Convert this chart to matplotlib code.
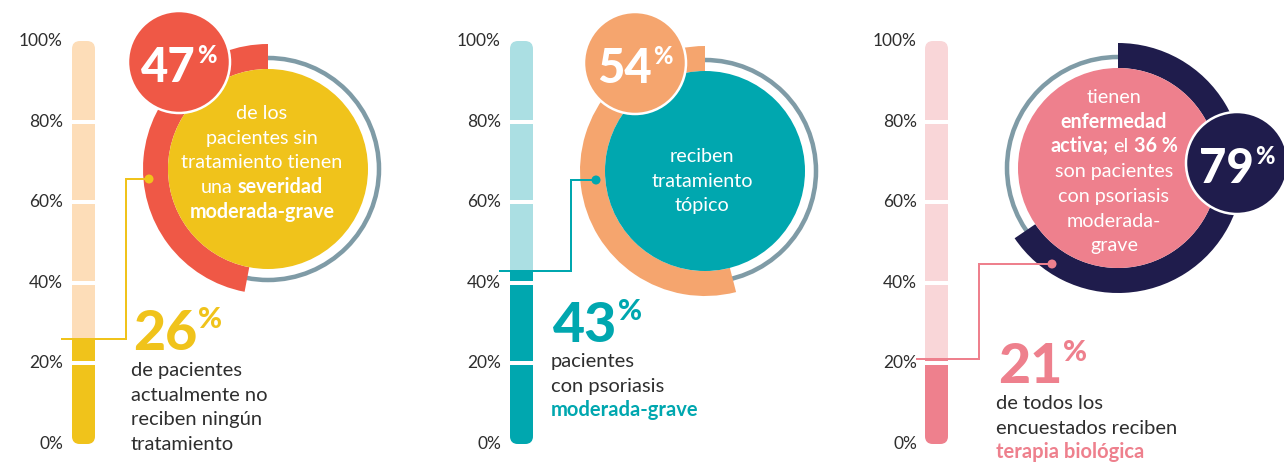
import numpy as np
import matplotlib.pyplot as plt
from matplotlib.patches import Circle, Wedge, FancyBboxPatch, Rectangle

plt.rcParams['font.family'] = ['Lato', 'DejaVu Sans']

# datos
ticks = [0, 20, 40, 60, 80, 100]
bar_pct = [26, 43, 21]          # barra de cada panel
arc_pct = [47, 54, 65.5]        # arco dibujado alrededor del circulo
bubble_txt = ["47", "54", "79"]
big_txt = ["26", "43", "21"]

# textos (segmento, estilo) por linea; estilo 0 normal, 1 negrita, 2 negrita color
circle_lines = [
    [[("de los", 0)], [("pacientes sin", 0)], [("tratamiento tienen", 0)],
     [("una", 0), ("severidad", 1)], [("moderada-grave", 1)]],
    [[("reciben", 0)], [("tratamiento", 0)], [("tópico", 0)]],
    [[("tienen", 0)], [("enfermedad", 1)], [("activa;", 1), ("el", 0), ("36 %", 1)],
     [("son pacientes", 0)], [("con psoriasis", 0)], [("moderada-", 0)], [("grave", 0)]],
]
foot_lines = [
    [[("de pacientes", 0)], [("actualmente no", 0)], [("reciben ningún", 0)], [("tratamiento", 0)]],
    [[("pacientes", 0)], [("con psoriasis", 0)], [("moderada-grave", 2)]],
    [[("de todos los", 0)], [("encuestados reciben", 0)], [("terapia biológica", 2)]],
]

dark = '#2E2E2E'
gray = '#7F9BA6'
panels = [
    dict(bx=72, lx=63, main='#F0C31B', light='#FDDDB8', arc='#EF5846', inner='#F0C31B', bub='#EF5846',
         c=(268, 169), b=(179, 62), line_x0=62, elbow=126, dot=(149, 179), ccw=True,
         cl_x=262, cl_y=119, big=(133, 350), foot=(131, 376)),
    dict(bx=510, lx=501, main='#00A7AF', light='#ABDFE3', arc='#F5A56E', inner='#00A7AF', bub='#F5A56E',
         c=(705, 171), b=(635, 63), line_x0=500, elbow=571, dot=(596, 180), ccw=True,
         cl_x=702, cl_y=162, big=(553, 342), foot=(551, 367)),
    dict(bx=925, lx=917, main='#EE808D', light='#F9D6D8', arc='#1F1C4C', inner='#EE808D', bub='#1F1C4C',
         c=(1118, 168), b=(1237, 163), line_x0=917, elbow=979, dot=(1052, 264), ccw=False,
         cl_x=1114, cl_y=103, big=(998, 383), foot=(996, 409)),
]

W, H = 1284, 465
fig = plt.figure(figsize=(W / 100, H / 100), dpi=100)
ax = fig.add_axes([0, 0, 1, 1])
ax.set_xlim(0, W)
ax.set_ylim(H, 0)
ax.axis('off')
R = fig.canvas.get_renderer()
PT = 72 / 100  # px -> pt


def ybar(p):
    return 444 - p * 4.03


def wid(t):
    return t.get_window_extent(renderer=R).width


def space_w(size, weight):
    a = ax.text(0, 0, "n n", fontsize=size, fontweight=weight)
    b = ax.text(0, 0, "nn", fontsize=size, fontweight=weight)
    s = wid(a) - wid(b)
    a.remove(); b.remove()
    return s


def rich_line(x, y, parts, size, colors, ha='center'):
    objs = []
    for s, st in parts:
        t = ax.text(0, y, s, fontsize=size, color=colors[st],
                    fontweight='bold' if st else 'normal', va='baseline', ha='left')
        objs.append(t)
    ws = [wid(t) for t in objs]
    sp = space_w(size, 'normal')
    total = sum(ws) + sp * (len(objs) - 1)
    x0 = x - total / 2 if ha == 'center' else x
    for t, w in zip(objs, ws):
        t.set_x(x0)
        x0 += w + sp


def big_number(x, y, txt, size, psize, color, rise, center=False, z=2):
    t = ax.text(x, y, txt, fontsize=size, fontweight='black', color=color, va='baseline', ha='left', zorder=z)
    p = ax.text(x, y - rise, "%", fontsize=psize, fontweight='black', color=color, va='baseline', ha='left', zorder=z)
    w1, w2 = wid(t), wid(p)
    if center:
        x = x - (w1 + 1 + w2) / 2
        t.set_x(x)
    p.set_x(x + w1 + 1)


for i, P in enumerate(panels):
    bx, bw = P['bx'], 23
    top, bot = ybar(100), ybar(0)
    # barra
    bg = FancyBboxPatch((bx, top), bw, bot - top, boxstyle='round,pad=0,rounding_size=8',
                        fc=P['light'], ec='none')
    ax.add_patch(bg)
    fg = FancyBboxPatch((bx, top), bw, bot - top, boxstyle='round,pad=0,rounding_size=8',
                        fc=P['main'], ec='none')
    ax.add_patch(fg)
    clip = Rectangle((bx - 5, ybar(bar_pct[i])), bw + 10, bot - ybar(bar_pct[i]) + 5, transform=ax.transData)
    fg.set_clip_path(clip)
    for p in ticks[1:-1]:
        ax.add_patch(Rectangle((bx - 1, ybar(p) - 2), bw + 2, 4, fc='white', ec='none'))
    for p in ticks:
        ax.text(P['lx'], ybar(p), f"{p}%", ha='right', va='center', fontsize=12.5, color=dark)

    # circulo
    cx, cy = P['c']
    ax.add_patch(Circle((cx, cy), 111, fill=False, ec=gray, lw=4.5 * PT))
    span = arc_pct[i] / 100 * 360
    if P['ccw']:
        th1, th2 = -(90 + span), -90
    else:
        th1, th2 = -90, span - 90
    ax.add_patch(Wedge((cx, cy), 125, th1, th2, width=25, fc=P['arc'], ec='none'))
    ax.add_patch(Circle((cx, cy), 100, fc=P['inner'], ec='none'))

    # burbuja
    ax.add_patch(Circle(P['b'], 51, fc=P['bub'], ec='white', lw=2.5 * PT, zorder=3))
    big_number(P['b'][0], P['b'][1] + 20, bubble_txt[i], 34, 17, 'white', 19, center=True, z=4)

    # conector
    y0 = ybar(bar_pct[i])
    dx, dy = P['dot']
    ax.plot([P['line_x0'], P['elbow'], P['elbow'], dx], [y0, y0, dy, dy], color=P['main'],
            lw=2 * PT, solid_joinstyle='miter', zorder=2)
    ax.add_patch(Circle((dx, dy), 4.5, fc=P['main'], ec='none', zorder=2))

    # texto del circulo
    for k, ln in enumerate(circle_lines[i]):
        rich_line(P['cl_x'], P['cl_y'] + k * 24.7, ln, 14.2, ['white', 'white'])

    # numero grande y pie
    big_number(P['big'][0], P['big'][1], big_txt[i], 40, 21, P['main'], 22)
    for k, ln in enumerate(foot_lines[i]):
        rich_line(P['foot'][0], P['foot'][1] + k * 24.7, ln, 14.5, [dark, dark, P['main']], ha='left')

fig.savefig('out.png', dpi=100, facecolor='white')
